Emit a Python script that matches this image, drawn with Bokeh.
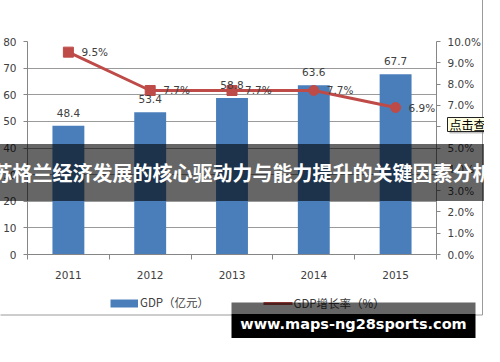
from bokeh.plotting import figure
from bokeh.models import (Range1d, LinearAxis, FixedTicker, PrintfTickFormatter,
                          ColumnDataSource)
from bokeh.embed import file_html
from bokeh.resources import INLINE
from bokeh.core.properties import value

years = ["2011", "2012", "2013", "2014", "2015"]
gdp = [48.4, 53.4, 58.8, 63.6, 67.7]
rate = [9.5, 7.7, 7.7, 7.7, 6.9]
gdp_ticks = [0, 10, 20, 30, 40, 50, 60, 70, 80]
rate_ticks = [0, 1, 2, 3, 4, 5, 6, 7, 8, 9, 10]
gdp_labels = ["48.4", "53.4", "58.8", "63.6", "67.7"]
rate_labels = ["9.5%", "7.7%", "7.7%", "7.7%", "6.9%"]
series_names = ["GDP（亿元）", "GDP增长率（%）"]
title_text = "苏格兰经济发展的核心驱动力与能力提升的关键因素分析"
watermark_text = "www.maps-ng28sports.com"
tooltip_text = "点击查"

W, H = 484, 346
FL, FR, FT, FB = 27, 436, 41, 254   # frame edges in canvas pixels
centers = [i + 0.5 for i in range(len(years))]
markers = ["square", "square", "square", "circle", "circle"]

BLUE = "#4a7ebb"
RED = "#be4b48"
AX = "#868686"
TXT = "#404040"
FONT = "DejaVu Sans"
CJK = "Noto Sans CJK SC"

src = ColumnDataSource(dict(x=centers, gdp=gdp, rate=rate, gl=gdp_labels,
                            rl=rate_labels, m=markers))

p = figure(width=W, height=H, output_backend="svg", toolbar_location=None,
           x_range=Range1d(0, len(years)), y_range=Range1d(0, 80),
           min_border_left=FL, min_border_right=W - FR, min_border_top=FT,
           min_border_bottom=H - FB)
p.extra_y_ranges = {"rate": Range1d(0, 10), "px": Range1d(FB, FT)}
p.extra_x_ranges = {"px": Range1d(FL, FR)}
p.outline_line_color = None
p.background_fill_color = "white"
p.border_fill_color = "white"

ya = p.yaxis[0]
ya.ticker = FixedTicker(ticks=gdp_ticks)
ya.axis_line_color = AX
ya.major_tick_line_color = AX
ya.major_tick_out = 4
ya.major_tick_in = 0
ya.minor_tick_line_color = None
ya.major_label_text_font = FONT
ya.major_label_text_font_size = "10.5px"
ya.major_label_text_color = TXT
ya.major_label_standoff = 7

ra = LinearAxis(y_range_name="rate", ticker=FixedTicker(ticks=rate_ticks),
                formatter=PrintfTickFormatter(format="%.1f%%"))
ra.axis_line_color = AX
ra.major_tick_line_color = AX
ra.major_tick_out = 4
ra.major_tick_in = 0
ra.minor_tick_line_color = None
ra.major_label_text_font = FONT
ra.major_label_text_font_size = "10.5px"
ra.major_label_text_color = TXT
ra.major_label_standoff = 7
p.add_layout(ra, "right")

xa = p.xaxis[0]
xa.ticker = FixedTicker(ticks=centers, minor_ticks=list(range(len(years) + 1)))
xa.major_label_overrides = {c: y for c, y in zip(centers, years)}
xa.axis_line_color = AX
xa.major_tick_out = 0
xa.major_tick_in = 0
xa.minor_tick_out = 5
xa.minor_tick_in = 0
xa.minor_tick_line_color = AX
xa.major_label_text_font = FONT
xa.major_label_text_font_size = "10.5px"
xa.major_label_text_color = TXT
xa.major_label_standoff = 11

p.xgrid.grid_line_color = None
p.ygrid.grid_line_color = "#9a9a9a"
p.ygrid.grid_line_width = 1

bars = p.vbar(x="x", top="gdp", width=0.39, source=src, fill_color=BLUE,
              line_color=None)
ln = p.line(x="x", y="rate", source=src, y_range_name="rate",
            line_color=RED, line_width=3)
mk = p.scatter(x="x", y="rate", source=src, y_range_name="rate", marker="m",
               size=10, fill_color=RED, line_color=RED)

p.text(x="x", y="gdp", text="gl", source=src, text_align="center",
       text_baseline="middle", y_offset=-13, text_font=value(FONT),
       text_font_size="10.5px", text_color=TXT)
p.text(x="x", y="rate", text="rl", source=src, y_range_name="rate",
       text_align="left", text_baseline="middle", x_offset=13,
       text_font=value(FONT), text_font_size="10.5px", text_color=TXT)

# ---- legend and screenshot decorations, overlay level, canvas pixels ----
ovk = dict(x_range_name="px", y_range_name="px", level="overlay")

# legend
p.quad(left=[110], right=[137.5], top=[299], bottom=[307], fill_color=BLUE,
       line_color=None, **ovk)
p.text(x=[139.5], y=[301], text=[series_names[0]], text_align="left",
       text_baseline="middle", text_font=value(CJK), text_font_size="11.5px",
       text_color=TXT, **ovk)
p.segment(x0=[263], y0=[303], x1=[292], y1=[303], line_color=RED,
          line_width=3, **ovk)
p.scatter(x=[278], y=[303], marker="square", size=9, fill_color=RED,
          line_color=RED, **ovk)
p.text(x=[293], y=[302], text=[series_names[1]], text_align="left",
       text_baseline="middle", text_font=value(CJK), text_font_size="11.5px",
       text_color=TXT, **ovk)

# chart border (right and bottom)
p.segment(x0=[482, 0], y0=[-2, 314.5], x1=[482, 482], y1=[314.5, 314.5],
          line_color="#9a9a9a", line_width=1, **ovk)
# dark banner with title
p.quad(left=[-2], right=[W + 2], top=[143.5], bottom=[200.5], fill_color="black",
       fill_alpha=0.6, line_color=None, **ovk)
p.text(x=[W / 2], y=[172], text=[title_text], text_align="center",
       text_baseline="middle", text_font=value(CJK),
       text_font_style="bold", text_font_size="20px", text_color="white", **ovk)
# tooltip
p.quad(left=[449], right=[W + 2], top=[119], bottom=[133], fill_color="#7f7f7f",
       fill_alpha=0.5, line_color=None, **ovk)
p.quad(left=[447], right=[W + 2], top=[117], bottom=[131], fill_color="#ffffe1",
       line_color="#222222", line_width=1, **ovk)
p.text(x=[449], y=[124], text=[tooltip_text], text_align="left",
       text_baseline="middle", text_font=value(CJK),
       text_font_size="12px", text_color="black", **ovk)
# watermark
p.quad(left=[231], right=[475], top=[302], bottom=[313.5], fill_color="black",
       fill_alpha=0.6, line_color=None, **ovk)
p.quad(left=[231], right=[475], top=[313.5], bottom=[337.5], fill_color="black",
       line_color=None, **ovk)
p.text(x=[353], y=[323], text=[watermark_text], text_align="center",
       text_baseline="middle", text_font=value("DejaVu Sans"),
       text_font_style="bold", text_font_size="14.5px", text_color="white", **ovk)

open("out.html", "w").write(file_html(p, INLINE))
